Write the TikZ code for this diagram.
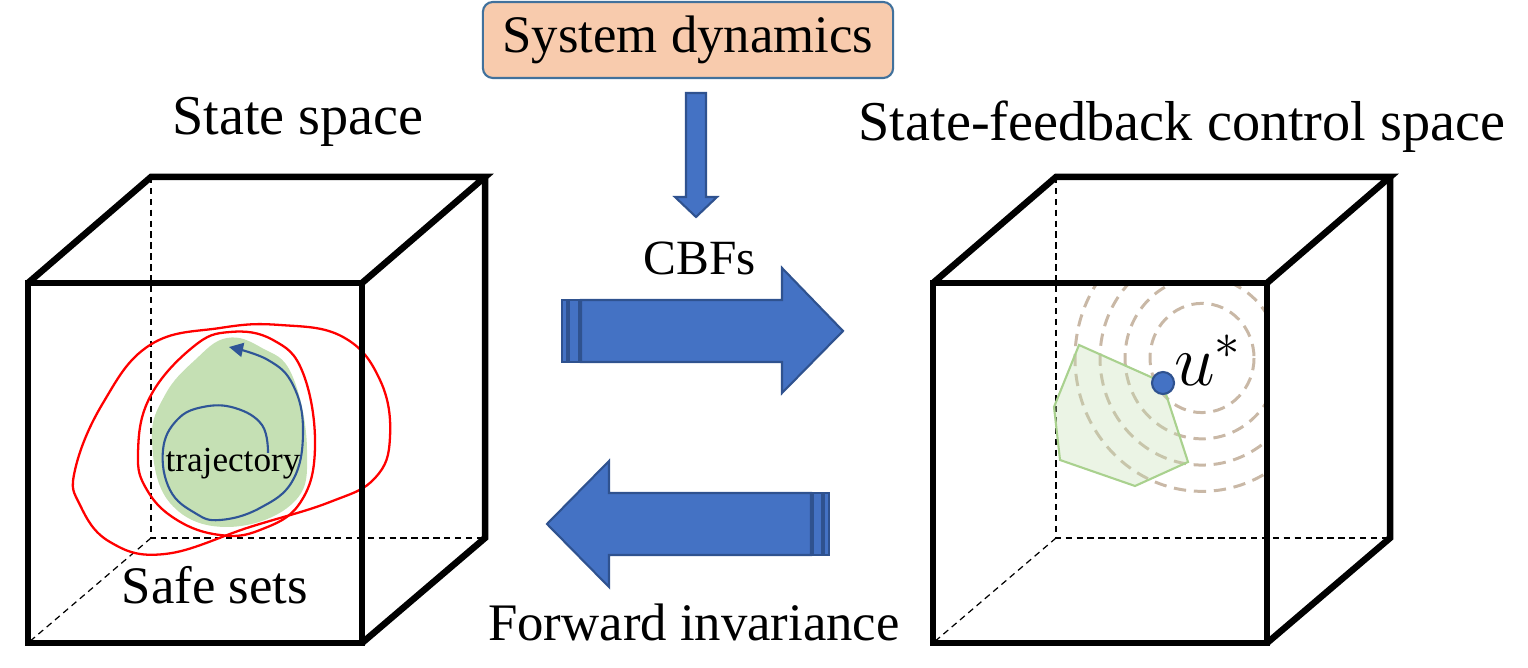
\documentclass[tikz,border=0pt]{standalone}
\usepackage{fontspec}
\setmainfont{Liberation Serif}
\usetikzlibrary{arrows.meta}
\definecolor{arrowfill}{HTML}{4472C4}
\definecolor{arrowline}{HTML}{2F528F}
\definecolor{dyn}{HTML}{F8CBAD}
\definecolor{dynline}{HTML}{41719C}
\definecolor{safe}{HTML}{C5E0B4}
\definecolor{traj}{HTML}{2F5597}
\definecolor{polyline}{HTML}{A9D18E}
\definecolor{level}{HTML}{C9B8A6}

\tikzset{
  edge/.style={line width=0.065cm, line join=miter},
  hidden/.style={line width=0.35pt, dash pattern=on 1.8pt off 1.3pt},
  blockarrow/.style={fill=arrowfill, draw=arrowline, line width=0.6pt},
  stripe/.style={fill=arrowfill, draw=arrowline, line width=0.35pt},
  title/.style={font=\fontsize{16pt}{19pt}\selectfont},
  caption/.style={font=\fontsize{15pt}{18pt}\selectfont},
  levelset/.style={draw=level, line width=0.85pt, dash pattern=on 3.5pt off 2.2pt},
}

\begin{document}
\begin{tikzpicture}[x=0.01cm, y=-0.01cm]
    \useasboundingbox (0,0) rectangle (1528,668);

    % hidden edges of both cubes
    \foreach \cx in {28, 933} {
      \draw[hidden] (\cx+123,177) -- (\cx+123,538) -- (\cx+457,538);
      \draw[hidden] (\cx+123,538) -- (\cx,643);
    }

    % state space: safe sets and trajectory
    \fill[safe] plot[smooth cycle, tension=0.7] coordinates {(227,338) (262,348) (292,375) (307,450) (293,503) (227,527) (170,503) (152,440) (165,395) (195,360)};
    \draw[red, line width=0.65pt] plot[smooth cycle, tension=0.7] coordinates {(75,470) (103,403) (150,345) (220,328) (280,325) (343,337) (380,380) (390,437) (375,478) (330,502) (250,527) (165,554) (110,542) (80,505)};
    \draw[red, line width=0.65pt] plot[smooth cycle, tension=0.7] coordinates {(138,453) (150,397) (193,347) (230,332) (273,340) (303,373) (315,447) (300,503) (260,530) (220,535) (177,520) (147,490)};
    \draw[traj, line width=0.6pt, -{Triangle[length=4pt, width=4pt]}] plot[smooth, tension=0.7] coordinates {(268,453) (262,425) (235,408) (203,407) (177,420) (163,450) (170,490) (195,513) (220,520) (260,508) (293,480) (303,430) (293,385) (268,360) (229,347)};
    \node at (233,464) (traj) [font=\fontsize{10pt}{12pt}\selectfont] {trajectory};
    \node at (215,585) (safesets) [caption] {Safe sets};

    % control space: level sets, feasible polygon, optimum
    \begin{scope}
      \clip (937,287) rectangle (1264,639);
      \foreach \r in {52,77,102,127}
        \draw[levelset] (1202,358) ellipse [x radius=\r, y radius=1.05*\r];
    \end{scope}
    \draw[polyline, line width=0.6pt, fill=safe, fill opacity=0.35] (1079,345) -- (1162,382) -- (1188,462) -- (1135,486) -- (1060,460) -- (1054,407) -- cycle;
    \node at (1163,383) (opt) [circle, fill=arrowfill, draw=arrowline, line width=0.6pt, minimum size=0.22cm, inner sep=0pt] {};
    \node at (1208,360) (optlabel) [font=\fontsize{20pt}{22pt}\selectfont] {$u^*$};

    % cube edges
    \foreach \cx in {28, 933} {
      \draw[edge] (\cx,283) rectangle (\cx+334,643);
      \draw[edge] (\cx,283) -- (\cx+123,177) -- (\cx+457,177) -- (\cx+334,283);
      \draw[edge] (\cx+457,177) -- (\cx+457,538) -- (\cx+334,643);
    }

    \node at (298,122) (statetitle) [title] {State space};
    \node at (1182,127) (controltitle) [title] {State-feedback control space};

    % system dynamics and block arrows
    \node at (688,40) (dynamics) [rounded corners=0.1cm, fill=dyn, draw=dynline, line width=0.6pt, minimum width=4.1cm, minimum height=0.76cm, caption] {System dynamics};
    \draw[blockarrow] (686,93) -- (706,93) -- (706,197) -- (717,197) -- (696,217) -- (675,197) -- (686,197) -- cycle;

    \node at (700,258) (cbfs) [font=\fontsize{14pt}{17pt}\selectfont] {CBFs};
    \draw[stripe] (562,300) rectangle (567,362);
    \draw[stripe] (569,300) rectangle (579,362);
    \draw[blockarrow] (581,300) -- (782,300) -- (782,268) -- (843,331) -- (782,393) -- (782,362) -- (581,362) -- cycle;

    \draw[stripe] (829,493) rectangle (824,555);
    \draw[stripe] (822,493) rectangle (813,555);
    \draw[blockarrow] (811,493) -- (609,493) -- (609,461) -- (547,524) -- (609,587) -- (609,555) -- (811,555) -- cycle;
    \node at (694,622) (invariance) [caption] {Forward invariance};
  \end{tikzpicture}
\end{document}
